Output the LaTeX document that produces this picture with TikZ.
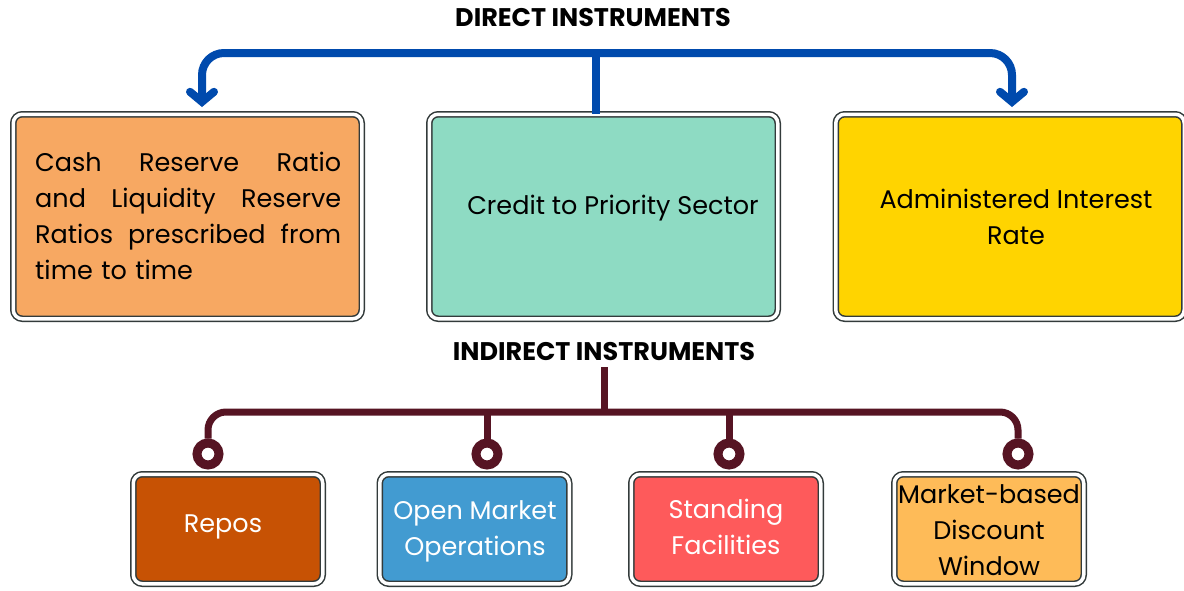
\documentclass[tikz,border=0pt]{standalone}
\usepackage{fontspec}
\setmainfont{Poppins}
\usetikzlibrary{arrows.meta}
\definecolor{dblue}{HTML}{004AAD}
\definecolor{maroon}{HTML}{561423}
\definecolor{corange}{HTML}{F7A862}
\definecolor{cgreen}{HTML}{8EDBC3}
\definecolor{cyellow}{HTML}{FFD400}
\definecolor{crepos}{HTML}{C75204}
\definecolor{cblue}{HTML}{429BD1}
\definecolor{cred}{HTML}{FE5A5B}
\definecolor{cpeach}{HTML}{FEBB58}
\definecolor{edge}{HTML}{333B3B}
\tikzset{
  box/.style={rectangle, rounded corners=9pt, draw=edge, line width=1.5pt,
    double=white, double distance=3.5pt, inner sep=0pt},
  bigbox/.style={box, minimum width=348.5pt, minimum height=204.5pt},
  smallbox/.style={box, minimum width=189.5pt, minimum height=109.5pt},
  title/.style={font=\fontsize{25.5}{30}\selectfont\bfseries, inner sep=2pt},
  toptext/.style={font=\fontsize{25.5}{36}\selectfont, inner sep=0pt},
  bottext/.style={font=\fontsize{25.5}{36}\selectfont, inner sep=0pt, align=center},
  blueline/.style={draw=dblue, line width=8pt},
  mline/.style={draw=maroon, line width=7pt},
  ring/.style={circle, draw=maroon, line width=9pt, fill=white, minimum size=22pt, inner sep=0pt},
}
\begin{document}
\begin{tikzpicture}[x=1pt,y=-1pt]
\useasboundingbox (0,0) rectangle (1184,590);
% titles
\node[title] (dir) at (593,18) {DIRECT INSTRUMENTS};
\node[title] (ind) at (604,352) {INDIRECT INSTRUMENTS};
% direct boxes
\node[bigbox, fill=corange] (a) at (187.5,216.5) {};
\node[bigbox, fill=cgreen] (b) at (603.5,216.5) {};
\node[bigbox, fill=cyellow] (c) at (1010,216.5) {};
\node[toptext, anchor=west, text width=306pt, align=left] (ta) at (35,215.5)
  {\makebox[306pt]{Cash\hfill Reserve\hfill Ratio}\\
   \makebox[306pt]{and\hfill Liquidity\hfill Reserve}\\
   \makebox[306pt]{Ratios\hfill prescribed\hfill from}\\
   time to time};
\node[toptext] (tb) at (613,208) {Credit to Priority Sector};
\node[toptext, align=center] (tc) at (1016,216.5) {Administered Interest\\Rate};
% blue connectors
\coordinate (dtop) at (596,53);
\draw[blueline] ([xshift=-7.5pt]b.north) -- ([xshift=-7.5pt]b.north |- dtop);
\draw[blueline, -{Straight Barb[length=10pt,width=24pt,line cap=round]}, rounded corners=22pt]
  (dtop) -| ([xshift=14.5pt,yshift=6.5pt]a.north);
\draw[blueline, -{Straight Barb[length=10pt,width=24pt,line cap=round]}, rounded corners=22pt]
  (dtop) -| ([xshift=2pt,yshift=6.5pt]c.north);
% indirect boxes
\node[smallbox, fill=crepos] (d) at (228,529) {};
\node[smallbox, fill=cblue] (e) at (474.5,529) {};
\node[smallbox, fill=cred] (f) at (726,529) {};
\node[smallbox, fill=cpeach] (g) at (989,529) {};
\node[bottext, text=white] (td) at (223,527) {Repos};
\node[bottext, text=white] (te) at (475,531) {Open Market\\Operations};
\node[bottext, text=white] (tf) at (726,527) {Standing\\Facilities};
\node[bottext] (tg) at (989,530) {Market-based\\Discount\\Window};
% rings
\node[ring] (r1) at (208,454) {};
\node[ring] (r2) at (487,454) {};
\node[ring] (r3) at (729,454) {};
\node[ring] (r4) at (1018,454) {};
% maroon connectors
\coordinate (hl) at (604,412);
\draw[mline] ([yshift=-4pt]ind.south) -- (ind.south |- hl);
\draw[mline, rounded corners=18pt] (r1.north) |- (hl) -| (r4.north);
\draw[mline] (r2.north) -- (r2.north |- hl);
\draw[mline] (r3.north) -- (r3.north |- hl);
\end{tikzpicture}
\end{document}
